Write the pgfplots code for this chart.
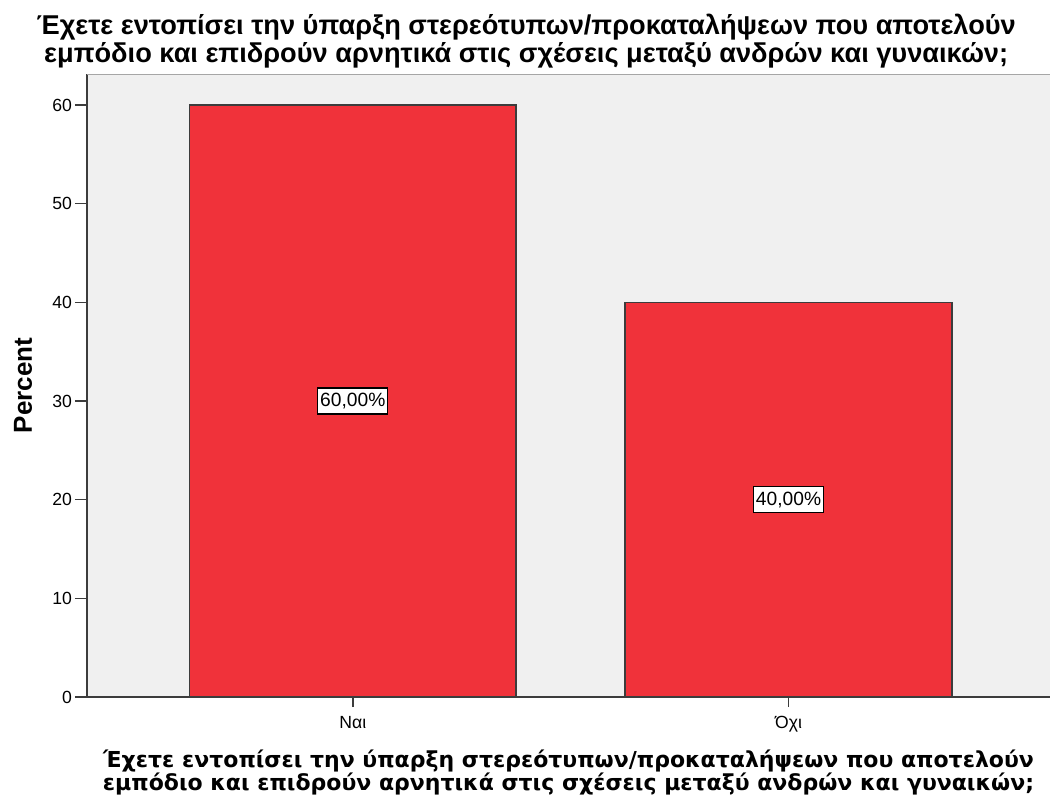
\documentclass[border=0pt]{standalone}
\usepackage{fontspec}
\setmainfont{Liberation Sans}
\newfontfamily\dejavu{DejaVu Sans}
\usepackage{pgfplots}
\pgfplotsset{compat=1.18}
\definecolor{barred}{RGB}{240,50,58}
\definecolor{plotbg}{RGB}{240,240,240}
\definecolor{axisgray}{RGB}{60,60,60}

\begin{document}
\begin{tikzpicture}
\useasboundingbox (-43.5pt,-51.5pt) rectangle (481.5pt,348.5pt);
\begin{axis}[
  scale only axis, width=481.5pt, height=311.5pt,
  xmin=-0.61, xmax=1.6, ymin=0, ymax=63.14,
  axis background/.style={fill=plotbg},
  axis x line*=bottom, axis y line*=left,
  axis line style={axisgray, line width=1pt},
  xtick={0,1}, xticklabels={Ναι,Όχι},
  ytick={0,10,...,60},
  tick align=outside, major tick length=6pt,
  tick style={axisgray, line width=0.8pt},
  xtick style={/pgfplots/major tick length=5pt},
  /pgf/number format/assume math mode=true,
  ticklabel style={font=\fontsize{8.8}{10}\selectfont},
  yticklabel style={xshift=2pt},
  ylabel={Percent},
  ylabel style={font=\bfseries\fontsize{13}{14}\selectfont, at={(axis description cs:-0.0665,0.5)}, anchor=center},
  xlabel={Έχετε εντοπίσει την ύπαρξη στερεότυπων/προκαταλήψεων που αποτελούν\\ εμπόδιο και επιδρούν αρνητικά στις σχέσεις μεταξύ ανδρών και γυναικών;},
  xlabel style={font=\dejavu\bfseries\fontsize{11}{11.5}\selectfont, align=center, at={(rel axis cs:0.5,0)}, anchor=center, yshift=-37.75pt},
  title={Έχετε εντοπίσει την ύπαρξη στερεότυπων/προκαταλήψεων που αποτελούν\\ εμπόδιο και επιδρούν αρνητικά στις σχέσεις μεταξύ ανδρών και γυναικών;},
  title style={font=\bfseries\fontsize{13.6}{14}\selectfont, align=center, at={(rel axis cs:0.456,1)}, anchor=center, yshift=10.5pt},
]
\addplot[ybar, bar width=0.75, fill=barred, draw=axisgray, line width=0.8pt]
  coordinates {(0,60) (1,40)};
\addplot[draw=none, mark=none, point meta=explicit,
  nodes near coords={\pgfmathprintnumber[fixed,fixed zerofill,precision=2,use comma]{\pgfplotspointmeta}\%},
  every node near coord/.append style={anchor=center, fill=white, draw=black, line width=0.6pt, inner xsep=1.2pt, inner ysep=2.5pt, font=\fontsize{9.6}{10}\selectfont}]
  coordinates {(0,30) [60] (1,20) [40]};
\draw[gray!70, line width=0.8pt] (rel axis cs:0,1) -- (rel axis cs:1,1);
\end{axis}
\end{tikzpicture}
\end{document}
